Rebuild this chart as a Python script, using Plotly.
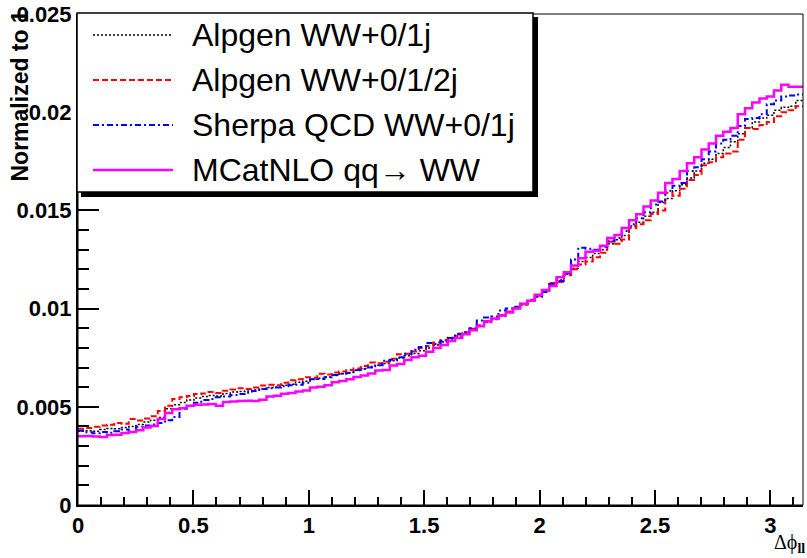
import numpy as np
import plotly.graph_objects as go

# bin contents, in units of 1e-3 (100 bins from 0 to pi)
alpgen_01j = [3.76, 3.78, 3.76, 3.84, 3.90, 3.88, 3.95, 4.00, 4.10, 4.22,
              4.32, 4.45, 4.90, 5.10, 5.22, 5.35, 5.45, 5.52, 5.58, 5.55,
              5.68, 5.75, 5.78, 5.80, 5.85, 5.90, 5.98, 6.00, 6.10, 6.15,
              6.25, 6.30, 6.40, 6.45, 6.52, 6.60, 6.68, 6.75, 6.85, 6.95,
              7.05, 7.12, 7.20, 7.35, 7.48, 7.60, 7.72, 7.85, 8.00, 8.15,
              8.30, 8.45, 8.60, 8.75, 8.95, 9.12, 9.30, 9.45, 9.62, 9.82,
              10.00, 10.20, 10.40, 10.65, 10.92, 11.20, 11.45, 11.75, 12.05, 12.40,
              12.60, 12.80, 13.00, 13.30, 13.50, 13.72, 14.20, 14.40, 14.70, 14.90,
              15.40, 15.60, 16.00, 16.30, 16.65, 17.00, 17.40, 17.60, 17.90, 18.20,
              18.50, 18.90, 19.20, 19.50, 19.70, 19.85, 20.10, 20.25, 20.30, 20.60]

alpgen_012j = [3.88, 3.92, 3.98, 4.05, 4.08, 4.18, 4.14, 4.38, 4.30, 4.40,
               4.52, 4.78, 5.05, 5.40, 5.48, 5.55, 5.65, 5.68, 5.75, 5.70,
               5.82, 5.88, 5.95, 5.90, 5.98, 6.08, 6.12, 6.10, 6.22, 6.35,
               6.40, 6.50, 6.48, 6.68, 6.65, 6.75, 6.80, 6.88, 6.95, 7.08,
               7.25, 7.22, 7.30, 7.45, 7.68, 7.70, 7.82, 8.00, 8.10, 8.28,
               8.40, 8.52, 8.68, 8.80, 8.98, 9.15, 9.30, 9.48, 9.68, 9.85,
               10.02, 10.20, 10.45, 10.65, 10.90, 11.30, 11.35, 11.70, 12.00, 12.25,
               12.40, 12.62, 12.85, 13.40, 13.30, 13.52, 14.10, 14.30, 14.50, 14.82,
               15.00, 15.90, 15.75, 16.10, 16.55, 16.80, 17.30, 17.45, 17.70, 17.90,
               18.00, 18.60, 19.20, 19.15, 19.35, 19.50, 19.80, 20.00, 20.10, 20.30]

sherpa_01j = [3.78, 3.70, 3.65, 3.72, 3.68, 3.75, 3.85, 3.72, 3.98, 4.05,
              4.10, 4.18, 4.32, 4.48, 4.90, 5.05, 5.20, 5.35, 5.40, 5.48,
              5.52, 5.60, 5.65, 5.72, 5.80, 5.90, 5.95, 5.98, 6.05, 6.10,
              6.12, 6.22, 6.40, 6.42, 6.50, 6.62, 6.68, 6.72, 6.88, 6.92,
              7.00, 7.12, 7.35, 7.40, 7.52, 7.70, 7.90, 8.05, 8.25, 8.20,
              8.35, 8.50, 8.72, 8.80, 9.00, 9.40, 9.55, 9.60, 9.90, 10.00,
              10.10, 10.25, 10.40, 10.60, 10.85, 11.25, 11.40, 11.80, 12.50, 13.10,
              13.05, 13.00, 13.15, 13.45, 13.60, 13.95, 14.30, 14.60, 14.90, 15.30,
              15.45, 16.00, 16.25, 16.40, 17.00, 17.20, 17.60, 18.00, 18.40, 18.60,
              18.80, 19.30, 19.65, 19.70, 19.90, 20.40, 20.60, 20.80, 20.85, 20.90]

mcatnlo = [3.50, 3.51, 3.49, 3.46, 3.56, 3.58, 3.66, 3.72, 3.80, 3.94,
           4.02, 4.38, 4.68, 4.88, 4.92, 5.05, 5.10, 5.12, 5.14, 5.05,
           5.24, 5.27, 5.30, 5.31, 5.30, 5.36, 5.53, 5.56, 5.66, 5.70,
           5.78, 5.83, 5.98, 6.02, 6.10, 6.25, 6.32, 6.40, 6.52, 6.60,
           6.70, 6.85, 6.88, 7.10, 7.18, 7.38, 7.52, 7.60, 7.80, 8.00,
           8.15, 8.35, 8.50, 8.70, 8.90, 9.10, 9.35, 9.50, 9.65, 9.80,
           10.00, 10.25, 10.40, 10.70, 10.95, 11.15, 11.60, 11.85, 12.20, 12.56,
           12.90, 12.95, 13.20, 13.60, 13.75, 14.10, 14.50, 14.80, 15.20, 15.50,
           15.90, 16.40, 16.60, 17.00, 17.40, 17.70, 18.10, 18.40, 18.80, 19.00,
           19.20, 19.90, 20.20, 20.50, 20.70, 20.80, 21.10, 21.40, 21.30, 21.30]

names = ['Alpgen WW+0/1j', 'Alpgen WW+0/1/2j', 'Sherpa QCD WW+0/1j', 'MCatNLO qq\u2192 WW']
series = [alpgen_01j, alpgen_012j, sherpa_01j, mcatnlo]
colors = ['black', '#ff0000', '#0000ff', '#ff00ff']
dashes = ['2px,2px', '6px,3px', '6px,3px,2px,3px', 'solid']
widths = [1.5, 2, 2, 2.5]

edges = np.linspace(0, np.pi, 101)

# plot frame in pixels: x 78..803, y 14..505
def px_x(p):
    return (p - 78) / 725.0

def px_y(p):
    return (505 - p) / 491.0

fig = go.Figure()
for vals, name, col, dsh, w in zip(series, names, colors, dashes, widths):
    y = np.array(vals) * 1e-3
    y = np.append(y, y[-1])
    fig.add_trace(go.Scatter(x=edges, y=y, mode='lines', name=name,
                             line=dict(color=col, dash=dsh, width=w, shape='hv')))

fig.update_layout(
    width=807, height=558,
    margin=dict(l=78, r=4, t=14, b=53, autoexpand=False),
    plot_bgcolor='white', paper_bgcolor='white',
    showlegend=False,
    font=dict(family='Liberation Sans, Arial, sans-serif', color='black'),
)
fig.update_xaxes(range=[0, np.pi], tickmode='linear', tick0=0, dtick=0.5,
                 ticks='inside', ticklen=15, tickwidth=2, tickcolor='black',
                 showline=True, linewidth=2, linecolor='black',
                 showgrid=False, zeroline=False, automargin=False,
                 tickfont=dict(size=22, weight='bold'),
                 minor=dict(dtick=0.1, ticks='inside', ticklen=8, tickwidth=2,
                            tickcolor='black', showgrid=False))
fig.update_yaxes(range=[0, 0.025], tickmode='linear', tick0=0, dtick=0.005,
                 ticks='inside', ticklen=21, tickwidth=2, tickcolor='black',
                 showline=True, linewidth=2, linecolor='black',
                 showgrid=False, zeroline=False, automargin=False,
                 tickfont=dict(size=22, weight='bold'),
                 minor=dict(dtick=0.001, ticks='inside', ticklen=11, tickwidth=2,
                            tickcolor='black', showgrid=False))

# thin frame on top and right
fig.add_shape(type='rect', xref='paper', yref='paper', x0=0, x1=1, y0=0, y1=1,
              line=dict(color='black', width=1), layer='above')

# legend box with shadow
fig.add_shape(type='rect', xref='paper', yref='paper',
              x0=px_x(81), x1=px_x(538), y0=px_y(197), y1=px_y(17),
              fillcolor='black', line=dict(width=0), layer='above')
fig.add_shape(type='rect', xref='paper', yref='paper',
              x0=px_x(77), x1=px_x(533), y0=px_y(192), y1=px_y(13),
              fillcolor='white', line=dict(color='black', width=1.5), layer='above')

rows = [35, 80, 125, 170]
for name, col, dsh, w, ry in zip(names, colors, dashes, widths, rows):
    fig.add_shape(type='line', xref='paper', yref='paper',
                  x0=px_x(93), x1=px_x(173), y0=px_y(ry), y1=px_y(ry),
                  line=dict(color=col, dash=dsh, width=w), layer='above')
    fig.add_annotation(xref='paper', yref='paper', x=px_x(190), y=px_y(ry),
                       xanchor='left', yanchor='middle', text=name, showarrow=False,
                       font=dict(size=32, color='black'))

fig.add_annotation(xref='paper', yref='paper', x=px_x(20), y=px_y(184),
                   xanchor='center', yanchor='bottom', textangle=-90,
                   text='Normalized to 1', showarrow=False,
                   font=dict(size=23, weight='bold'))
fig.add_annotation(xref='paper', yref='paper', x=px_x(807), y=px_y(558),
                   xanchor='right', yanchor='bottom',
                   text='\u0394\u03d5<sub><b>ll</b></sub>', showarrow=False,
                   font=dict(size=20, family='Liberation Serif, serif'))

# the page's default 8px body margin would shift and crop the figure
fig.write_html("out.html", config={'displayModeBar': False},
               post_script="document.body.style.margin='0';")
